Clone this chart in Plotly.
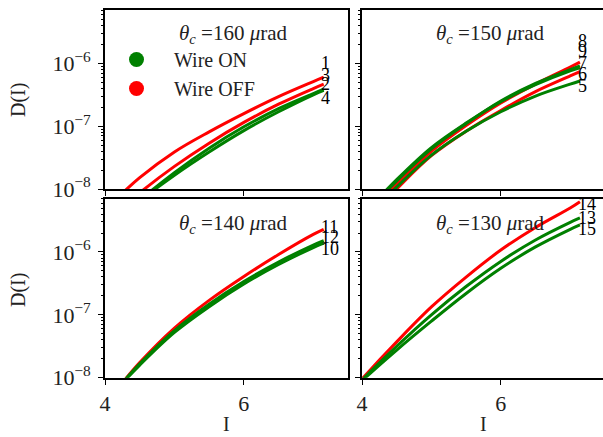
import plotly.graph_objects as go

# ---------------- data ----------------
# values are log10(D); points below 1e-8 lie outside the axes
panel_titles = ["160", "150", "140", "130"]

# Panel 1 : theta_c = 160 urad
p1_labels = ["1", "3", "2", "4"]
p1_colors = ["red", "red", "green", "green"]
p1_I = [4.0, 4.5, 5.0, 5.5, 6.0, 6.5, 7.0, 7.15]
p1_logD = [
    [-8.33, -7.82, -7.41, -7.09, -6.80, -6.53, -6.29, -6.22],
    [-8.53, -8.06, -7.64, -7.27, -6.94, -6.65, -6.40, -6.33],
    [-8.67, -8.18, -7.74, -7.35, -7.01, -6.72, -6.48, -6.41],
    [-8.64, -8.19, -7.78, -7.41, -7.07, -6.77, -6.50, -6.43],
]
p1_label_I = 7.17
p1_label_logD = [-5.99, -6.18, -6.33, -6.55]

# Panel 2 : theta_c = 150 urad
p2_labels = ["8", "9", "7", "6", "5"]
p2_colors = ["red", "green", "green", "red", "green"]
p2_I = [4.0, 4.5, 5.0, 5.5, 6.0, 6.5, 7.0, 7.14]
p2_logD = [
    [-8.50, -7.92, -7.40, -6.99, -6.63, -6.33, -6.06, -5.98],
    [-8.45, -7.87, -7.36, -6.96, -6.60, -6.32, -6.10, -6.04],
    [-8.43, -7.85, -7.34, -6.95, -6.61, -6.34, -6.12, -6.07],
    [-8.58, -8.00, -7.47, -7.08, -6.75, -6.45, -6.20, -6.13],
    [-8.55, -7.97, -7.46, -7.08, -6.77, -6.52, -6.33, -6.28],
]
p2_label_I = 7.17
p2_label_logD = [-5.65, -5.81, -5.99, -6.17, -6.36]

# Panel 3 : theta_c = 140 urad
p3_labels = ["11", "12", "10"]
p3_colors = ["red", "green", "green"]
p3_I = [4.0, 4.5, 5.0, 5.5, 6.0, 6.5, 7.0, 7.15]
p3_logD = [
    [-8.42, -7.76, -7.21, -6.77, -6.39, -6.04, -5.72, -5.64],
    [-8.40, -7.78, -7.25, -6.83, -6.47, -6.16, -5.89, -5.82],
    [-8.38, -7.80, -7.28, -6.87, -6.51, -6.20, -5.93, -5.86],
]
p3_label_I = 7.24
p3_label_logD = [-5.60, -5.77, -5.95]

# Panel 4 : theta_c = 130 urad
p4_labels = ["14", "13", "15"]
p4_colors = ["red", "green", "green"]
p4_I = [3.5, 4.0, 4.5, 5.0, 5.5, 6.0, 6.5, 7.0, 7.14]
p4_logD = [
    [-8.65, -8.02, -7.43, -6.875, -6.40, -5.97, -5.61, -5.30, -5.20],
    [-8.68, -8.04, -7.50, -7.00, -6.55, -6.15, -5.81, -5.53, -5.46],
    [-8.60, -8.05, -7.56, -7.10, -6.66, -6.26, -5.92, -5.64, -5.57],
]
p4_label_I = 7.24
p4_label_logD = [-5.245, -5.46, -5.64]

x_ticks = [4, 6]
y_major_exp = [-8, -7, -6]
y_range_log = [-8, -5.15]
minor_decades = [-9, -8, -7, -6, -5]
minor_mults = [2, 3, 4, 5, 6, 7, 8, 9]
legend_names = ["Wire ON", "Wire OFF"]
legend_colors = ["green", "red"]

panels = [
    (p1_labels, p1_colors, p1_I, p1_logD, p1_label_I, p1_label_logD),
    (p2_labels, p2_colors, p2_I, p2_logD, p2_label_I, p2_label_logD),
    (p3_labels, p3_colors, p3_I, p3_logD, p3_label_I, p3_label_logD),
    (p4_labels, p4_colors, p4_I, p4_logD, p4_label_I, p4_label_logD),
]

y_major_vals = [10.0 ** e for e in y_major_exp]
y_major_text = ["10<sup>\u2212%d</sup>" % (-e) for e in y_major_exp]
minor_vals = [m * 10.0 ** d for d in minor_decades for m in minor_mults]

# ---------------- layout geometry ----------------
W, H = 603, 437
FONT = "Liberation Serif, DejaVu Serif, serif"
col_dom = [[105 / W, 348 / W], [362 / W, 1.0]]
row_dom = [[1 - 189 / H, 1 - 10 / H], [1 - 377.7 / H, 1 - 198.5 / H]]
x_ranges = [[4, 7.5], [4, 4 + 241 / 69.4]]

fig = go.Figure()
annotations = []

for k, (labels, colors, I_vals, logDs, lab_I, lab_logD) in enumerate(panels):
    r, c = divmod(k, 2)
    xa = "x" if k == 0 else f"x{k+1}"
    ya = "y" if k == 0 else f"y{k+1}"
    for lab, col, lv in zip(labels, colors, logDs):
        fig.add_trace(go.Scatter(
            x=I_vals, y=[10.0 ** v for v in lv], mode="lines", name=lab,
            line=dict(color=col, width=3, shape="spline", smoothing=1.0),
            xaxis=xa, yaxis=ya, showlegend=False, hoverinfo="skip"))
    for lab, lv in zip(labels, lab_logD):
        annotations.append(dict(x=lab_I, y=lv, xref=xa, yref=ya,
                                text=lab, showarrow=False, xanchor="center", yanchor="middle",
                                font=dict(family=FONT, size=18, color="black")))
    axis_common = dict(showline=True, linecolor="black", linewidth=1.6,
                       ticks="outside", ticklen=5, tickwidth=1.2, tickcolor="black",
                       showgrid=False, zeroline=False, automargin=False,
                       tickfont=dict(family=FONT, size=22, color="#222"))
    xkey = "xaxis" if k == 0 else f"xaxis{k+1}"
    ykey = "yaxis" if k == 0 else f"yaxis{k+1}"
    fig.update_layout(**{
        xkey: dict(domain=col_dom[c], range=x_ranges[c], anchor=ya, tickvals=x_ticks,
                   showticklabels=(r == 1), mirror=True, ticklabelstandoff=0,
                   **axis_common),
        ykey: dict(domain=row_dom[r], type="log", range=y_range_log, anchor=xa,
                   tickmode="array", tickvals=y_major_vals, ticktext=y_major_text,
                   showticklabels=(c == 0), mirror=(c == 0), ticklabelstandoff=3,
                   minor=dict(tickmode="array", tickvals=minor_vals, ticks="outside",
                              ticklen=2.5, tickwidth=1, tickcolor="black", showgrid=False),
                   **axis_common),
    })
    # panel title
    xc = 233 / W if c == 0 else 490 / W
    yc = 1 - (34 / H) if r == 0 else 1 - (224 / H)
    annotations.append(dict(x=xc, y=yc, xref="paper", yref="paper",
                            text="<i>θ</i><sub><i>c</i></sub> =" + panel_titles[k] + " <i>μ</i>rad",
                            showarrow=False, xanchor="center", yanchor="middle",
                            font=dict(family=FONT, size=21, color="#222")))

# axis titles
for yc in [1 - 100 / H, 1 - 290 / H]:
    annotations.append(dict(x=18 / W, y=yc, xref="paper", yref="paper", text="D(I)",
                            textangle=-90, showarrow=False, xanchor="center", yanchor="middle",
                            font=dict(family=FONT, size=20, color="#222")))
for xc in [226 / W, 483 / W]:
    annotations.append(dict(x=xc, y=0, xref="paper", yref="paper", text="I",
                            showarrow=False, xanchor="center", yanchor="bottom",
                            font=dict(family=FONT, size=20, color="#222")))

# legend entries
for name, col in zip(legend_names, legend_colors):
    fig.add_trace(go.Scatter(x=[None], y=[None], mode="markers",
                             name="\u00a0\u2009" + name,
                             marker=dict(color=col, size=15), xaxis="x", yaxis="y"))

fig.update_layout(
    width=W, height=H, margin=dict(l=0, r=0, t=0, b=0),
    paper_bgcolor="white", plot_bgcolor="white",
    annotations=annotations,
    showlegend=True,
    legend=dict(x=108 / W, y=1 - 40 / H, xanchor="left", yanchor="top",
                bgcolor="rgba(0,0,0,0)", font=dict(family=FONT, size=20, color="#222"),
                itemwidth=47, tracegroupgap=0),
)

post = ("var s=document.documentElement.style;s.margin='0';s.padding='0';"
        "var b=document.body.style;b.margin='0';b.padding='0';")
fig.write_html("out.html", post_script=post, config={"displayModeBar": False})
